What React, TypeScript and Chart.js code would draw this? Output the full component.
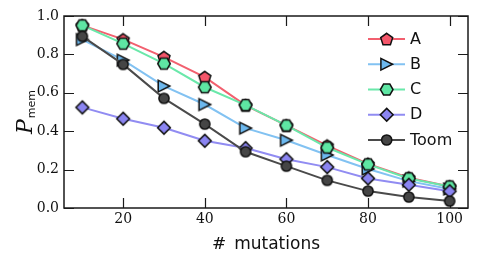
import React, { useEffect, useRef } from "react";
import { Chart, registerables } from "chart.js";

Chart.register(...registerables);

const mutations = [10, 20, 30, 40, 50, 60, 70, 80, 90, 100];
const seriesA = [0.951, 0.878, 0.786, 0.682, 0.535, 0.43, 0.325, 0.23, 0.158, 0.112];
const seriesB = [0.877, 0.77, 0.635, 0.539, 0.416, 0.353, 0.276, 0.203, 0.14, 0.099];
const seriesC = [0.951, 0.856, 0.752, 0.629, 0.536, 0.43, 0.315, 0.227, 0.154, 0.112];
const seriesD = [0.524, 0.465, 0.418, 0.35, 0.312, 0.254, 0.213, 0.154, 0.121, 0.087];
const seriesToom = [0.894, 0.748, 0.571, 0.437, 0.293, 0.218, 0.144, 0.088, 0.057, 0.036];
const seriesNames = ["A", "B", "C", "D", "Toom"];
const xTickValues = [20, 40, 60, 80, 100];
const yTickValues = [0, 0.2, 0.4, 0.6, 0.8, 1.0];

type Shape = "pentagon" | "triangleRight" | "hexagon" | "diamond" | "circle";

const shapes: Shape[] = ["pentagon", "triangleRight", "hexagon", "diamond", "circle"];
const fills = ["#f5566a", "#6cb8ee", "#5ee6a3", "#8b85f2", "#454545"];
const lineColors = ["#f2606f", "#82c2f2", "#6ae8aa", "#918cf2", "#4a4a4a"];
const EDGE = "#111111";

function tracePath(ctx: CanvasRenderingContext2D, shape: Shape, cx: number, cy: number) {
  ctx.beginPath();
  if (shape === "pentagon") {
    const r = 6.3;
    for (let i = 0; i < 5; i++) {
      const a = -Math.PI / 2 + (i * 2 * Math.PI) / 5;
      const px = cx + r * Math.cos(a);
      const py = cy + r * Math.sin(a) + 0.6;
      if (i === 0) ctx.moveTo(px, py);
      else ctx.lineTo(px, py);
    }
  } else if (shape === "hexagon") {
    const r = 6.3;
    for (let i = 0; i < 6; i++) {
      const a = (i * Math.PI) / 3;
      const px = cx + r * Math.cos(a);
      const py = cy + r * Math.sin(a);
      if (i === 0) ctx.moveTo(px, py);
      else ctx.lineTo(px, py);
    }
  } else if (shape === "triangleRight") {
    const a = 5.8;
    ctx.moveTo(cx + a, cy);
    ctx.lineTo(cx - a, cy - a);
    ctx.lineTo(cx - a, cy + a);
  } else if (shape === "diamond") {
    const a = 6.4;
    ctx.moveTo(cx, cy - a);
    ctx.lineTo(cx + a, cy);
    ctx.lineTo(cx, cy + a);
    ctx.lineTo(cx - a, cy);
  } else {
    ctx.arc(cx, cy, 5.1, 0, Math.PI * 2);
  }
  ctx.closePath();
}

function drawMarker(ctx: CanvasRenderingContext2D, shape: Shape, fill: string, cx: number, cy: number) {
  ctx.save();
  tracePath(ctx, shape, cx, cy);
  ctx.fillStyle = fill;
  ctx.fill();
  ctx.lineWidth = 1.5;
  ctx.lineJoin = "miter";
  ctx.strokeStyle = EDGE;
  ctx.stroke();
  ctx.restore();
}

function makeMarker(shape: Shape, fill: string): HTMLCanvasElement {
  const c = document.createElement("canvas");
  c.width = 22;
  c.height = 22;
  const ctx = c.getContext("2d")!;
  drawMarker(ctx, shape, fill, 11, 11);
  return c;
}

const framePlugin = {
  id: "framePlugin",
  beforeDatasetsDraw(chart: any) {
    const { ctx, chartArea } = chart;
    const xs = chart.scales.x;
    const ys = chart.scales.y;
    const { left, right, top, bottom } = chartArea;
    const tl = 10;
    ctx.save();
    ctx.strokeStyle = "#1a1a1a";
    ctx.lineWidth = 1.2;
    ctx.beginPath();
    for (const v of xTickValues) {
      const px = Math.round(xs.getPixelForValue(v)) + 0.5;
      ctx.moveTo(px, bottom);
      ctx.lineTo(px, bottom - tl);
      ctx.moveTo(px, top);
      ctx.lineTo(px, top + tl);
    }
    for (const v of yTickValues) {
      const py = Math.round(ys.getPixelForValue(v)) + 0.5;
      ctx.moveTo(left, py);
      ctx.lineTo(left + tl, py);
      ctx.moveTo(right, py);
      ctx.lineTo(right - tl, py);
    }
    ctx.stroke();
    ctx.lineWidth = 1.5;
    ctx.strokeStyle = "#1a1a1a";
    ctx.strokeRect(left, top, right - left, bottom - top);
    ctx.restore();
  },
  afterDraw(chart: any) {
    const { ctx, chartArea } = chart;
    ctx.save();
    // legend
    const rowStart = 39;
    const rowStep = 25.25;
    for (let i = 0; i < seriesNames.length; i++) {
      const y = rowStart + i * rowStep;
      ctx.strokeStyle = lineColors[i];
      ctx.lineWidth = 2;
      ctx.beginPath();
      ctx.moveTo(368, y);
      ctx.lineTo(405, y);
      ctx.stroke();
      drawMarker(ctx, shapes[i], fills[i], 386.7, y);
      ctx.fillStyle = "#111";
      ctx.font = "16px 'DejaVu Sans'";
      ctx.textAlign = "left";
      ctx.textBaseline = "middle";
      ctx.fillText(seriesNames[i], 410, y + 0.5);
    }
    // x title
    const cx = (chartArea.left + chartArea.right) / 2;
    ctx.textBaseline = "alphabetic";
    ctx.font = "17px 'DejaVu Serif'";
    const wHash = ctx.measureText("#").width;
    ctx.font = "17px 'DejaVu Sans'";
    const wWord = ctx.measureText("mutations").width;
    const gap = 8;
    const total = wHash + gap + wWord;
    const sx = cx - total / 2;
    ctx.font = "17px 'DejaVu Serif'";
    ctx.fillText("#", sx, 249);
    ctx.font = "17px 'DejaVu Sans'";
    ctx.fillText("mutations", sx + wHash + gap, 249);
    // y title
    const cy = (chartArea.top + chartArea.bottom) / 2;
    ctx.translate(32, cy);
    ctx.rotate(-Math.PI / 2);
    ctx.font = "italic 22px 'DejaVu Serif'";
    const wP = ctx.measureText("P").width;
    ctx.font = "11px 'DejaVu Sans'";
    const wMem = ctx.measureText("mem").width;
    const tot = wP + 1 + wMem;
    ctx.font = "italic 22px 'DejaVu Serif'";
    ctx.fillText("P", -tot / 2, 0);
    ctx.font = "11px 'DejaVu Sans'";
    ctx.fillText("mem", -tot / 2 + wP + 1, 2.5);
    ctx.restore();
  },
};

export default function App() {
  const ref = useRef<HTMLCanvasElement | null>(null);
  useEffect(() => {
    if (!ref.current) return;
    const all = [seriesA, seriesB, seriesC, seriesD, seriesToom];
    const datasets = all.map((vals, i) => {
      const marker = makeMarker(shapes[i], fills[i]);
      return {
        label: seriesNames[i],
        data: mutations.map((x, j) => ({ x, y: vals[j] })),
        borderColor: lineColors[i],
        backgroundColor: fills[i],
        borderWidth: 2,
        pointStyle: marker,
        pointRadius: 6,
        pointHoverRadius: 6,
        tension: 0,
        order: all.length - i,
        clip: false as any,
      };
    });
    const chart = new Chart(ref.current, {
      type: "line",
      data: { datasets: datasets as any },
      options: {
        animation: false,
        responsive: false,
        devicePixelRatio: 1,
        layout: { padding: { left: 0, right: 11, top: 16, bottom: 0 } },
        plugins: { legend: { display: false }, tooltip: { enabled: false } },
        scales: {
          x: {
            type: "linear",
            min: 5.5,
            max: 104.5,
            grid: { display: false, drawTicks: false },
            border: { display: false },
            afterBuildTicks: (s: any) => {
              s.ticks = xTickValues.map((v) => ({ value: v }));
            },
            afterFit: (s: any) => {
              s.height = 56;
            },
            ticks: {
              padding: 3,
              color: "#111",
              font: { family: "'DejaVu Serif'", size: 14 },
              maxRotation: 0,
              callback: (v: any) => String(v),
            },
          },
          y: {
            type: "linear",
            min: 0,
            max: 1,
            grid: { display: false, drawTicks: false },
            border: { display: false },
            afterBuildTicks: (s: any) => {
              s.ticks = yTickValues.map((v) => ({ value: v }));
            },
            afterFit: (s: any) => {
              s.width = 64;
            },
            ticks: {
              padding: 5,
              color: "#111",
              font: { family: "'DejaVu Serif'", size: 14 },
              callback: (v: any) => Number(v).toFixed(1),
            },
          },
        },
      },
      plugins: [framePlugin],
    });
    return () => chart.destroy();
  }, []);
  return (
    <div style={{ position: "absolute", left: 0, top: 0, width: 479, height: 264, background: "#fff" }}>
      <canvas ref={ref} width={479} height={264} style={{ display: "block" }} />
    </div>
  );
}
